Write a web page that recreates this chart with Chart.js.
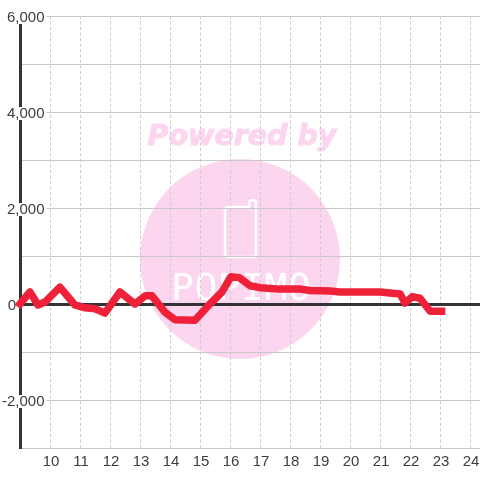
<!DOCTYPE html>
<html>
<head>
<meta charset="utf-8">
<style>
  html, body { margin: 0; padding: 0; background: #fff; }
</style>
</head>
<body>
<canvas id="myChart" width="480" height="480" style="display:block"></canvas>
<script src="https://cdn.jsdelivr.net/npm/chart.js@4"></script>
<script>
// values
const hours = [9, 9.33, 9.6, 9.83, 10.33, 10.83, 11.17, 11.5, 11.83, 12.33, 12.83, 13.17, 13.4, 13.83, 14.17, 14.83, 15.33, 15.73, 16.03, 16.3, 16.67, 17, 17.67, 18.33, 18.67, 19.33, 19.67, 20.33, 21, 21.67, 21.83, 22.07, 22.33, 22.67, 23.05];
const amounts = [0, 250, -20, 40, 350, -20, -80, -100, -190, 250, 0, 170, 170, -170, -330, -340, 0, 250, 570, 550, 380, 340, 310, 310, 280, 270, 250, 250, 250, 210, 20, 150, 120, -150, -150];
const xTicks = [10, 11, 12, 13, 14, 15, 16, 17, 18, 19, 20, 21, 22, 23, 24];
const yLabelled = [-2000, 0, 2000, 4000, 6000];

// logo behind the grid
const watermark = {
  id: "watermark",
  beforeDraw(chart) {
    const ctx = chart.ctx;
    ctx.save();
    ctx.fillStyle = "#fcd6ee";
    ctx.strokeStyle = "#fcd6ee";
    ctx.beginPath();
    ctx.arc(240, 259, 100, 0, Math.PI * 2);
    ctx.fill();

    ctx.font = "italic bold 28.5px 'DejaVu Sans'";
    ctx.textAlign = "center";
    ctx.textBaseline = "alphabetic";
    ctx.lineWidth = 1;
    ctx.fillText("Powered by", 242, 145);
    ctx.strokeText("Powered by", 242, 145);

    // phone with its antenna
    ctx.strokeStyle = "#fff";
    ctx.lineWidth = 2.5;
    ctx.beginPath();
    ctx.moveTo(228, 207);
    ctx.lineTo(249, 207);
    ctx.lineTo(249, 203);
    ctx.quadraticCurveTo(249, 200, 253, 200);
    ctx.quadraticCurveTo(256, 200, 256, 203);
    ctx.lineTo(256, 254);
    ctx.quadraticCurveTo(256, 257, 253, 257);
    ctx.lineTo(228, 257);
    ctx.quadraticCurveTo(225, 257, 225, 254);
    ctx.lineTo(225, 210);
    ctx.quadraticCurveTo(225, 207, 228, 207);
    ctx.stroke();

    ctx.fillStyle = "#fff";
    ctx.font = "38px 'DejaVu Sans Mono'";
    ctx.letterSpacing = "0.5px";
    ctx.textAlign = "left";
    ctx.fillText("POPIMO", 171, 300);
    ctx.restore();
  },
};

// nudge tick labels to where the reference has them
const labelNudge = {
  id: "labelNudge",
  afterLayout(chart) {
    chart.scales.y.getLabelItems().forEach((item) => {
      const [x, y] = item.options.translation;
      const isZero = item.label === "0";
      item.options.translation = [isZero ? 16 : x, y + 2];
      // backdrop is relative to the translated label
      if (item.options.backdrop) {
        item.options.backdrop.top = -7;
        item.options.backdrop.height = 13;
      }
    });
    chart.scales.x.getLabelItems().forEach((item) => {
      const [x, y] = item.options.translation;
      item.options.translation = [x + 1, y];
    });
  },
};

new Chart(document.getElementById("myChart"), {
  type: "line",
  data: {
    datasets: [
      {
        data: hours.map((h, i) => ({ x: h, y: amounts[i] })),
        borderColor: "#ee2139",
        borderWidth: 7.5,
        borderCapStyle: "square",
        borderJoinStyle: "round",
        pointRadius: 0,
        tension: 0,
        clip: false,
      },
    ],
  },
  options: {
    responsive: false,
    animation: false,
    devicePixelRatio: 1,
    layout: { padding: { left: 20, top: 16, right: 0, bottom: 0 } },
    plugins: { legend: { display: false }, tooltip: { enabled: false } },
    scales: {
      x: {
        type: "linear",
        min: 9,
        max: 24.33,
        afterBuildTicks(scale) {
          scale.ticks = xTicks.map((value) => ({ value }));
        },
        afterFit(scale) {
          scale.height = 32;
          scale.paddingLeft = 0;
          scale.paddingRight = 0;
        },
        ticks: {
          autoSkip: false,
          maxRotation: 0,
          color: "#3d3d3d",
          padding: 5,
          font: { family: "'Liberation Sans'", size: 15 },
        },
        grid: { color: "#cccccc", lineWidth: 1, drawTicks: false },
        border: { display: false, dash: [3, 2.5] },
      },
      y: {
        min: -3000,
        max: 6000,
        afterFit(scale) {
          scale.width = 0;
        },
        ticks: {
          stepSize: 1000,
          autoSkip: false,
          mirror: true,
          crossAlign: "far",
          padding: -18,
          color: "#3d3d3d",
          font: { family: "'Liberation Sans'", size: 15 },
          callback(v) {
            return yLabelled.includes(v) ? v.toLocaleString("en-US") : "";
          },
          showLabelBackdrop: (c) => c.tick.value !== 0 && yLabelled.includes(c.tick.value),
          backdropColor: "#fff",
          backdropPadding: 2,
        },
        grid: {
          drawTicks: false,
          color: (c) => (c.tick.value === 0 ? "#333" : "#c8c8c8"),
          lineWidth: (c) => (c.tick.value === 0 ? 3 : 1),
        },
        border: { color: "#333", width: 3 },
      },
    },
  },
  plugins: [watermark, labelNudge],
});
</script>
</body>
</html>
